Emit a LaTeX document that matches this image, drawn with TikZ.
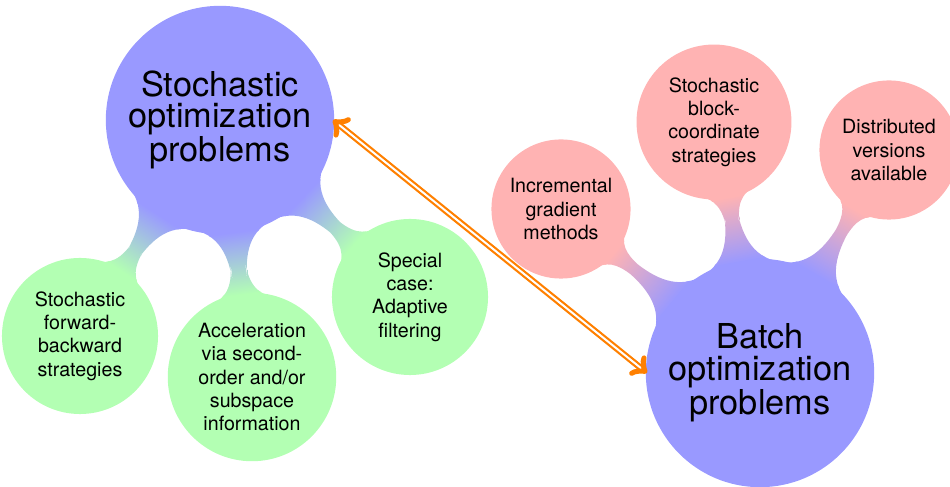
\documentclass[tikz,border=0pt]{standalone}
\usepackage{fontspec}
\setmainfont{TeX Gyre Heros}
\usetikzlibrary{mindmap}
\definecolor{rootblue}{RGB}{153,153,255}
\definecolor{leafgreen}{RGB}{179,255,179}
\definecolor{leafpink}{RGB}{255,179,179}
\definecolor{arroworange}{RGB}{255,128,0}
\begin{document}
\begin{tikzpicture}[x=0.0177cm,y=0.0177cm,mindmap]
\tikzset{
  bigconcept/.style={concept, concept color=rootblue, minimum size=4cm, inner sep=0pt,
    text width={}, align=center, text=black, font=\fontsize{17.28}{15.8}\selectfont},
  leafconcept/.style={concept, inner sep=0pt, text width={}, align=center, text=black,
    font=\fontsize{9.9}{11.7}\selectfont},
  greenleaf/.style={leafconcept, concept color=leafgreen},
  pinkleaf/.style={leafconcept, concept color=leafpink},
  linkarrow/.style={<->, draw=arroworange, double=white, line width=1.1pt, double distance=1pt}
}
\useasboundingbox (0,0) rectangle (950,-487);
\node[bigconcept] (stoch) at (220,-120) {Stochastic\\optimization\\problems};
\node[bigconcept] (batch) at (760,-373) {Batch\\optimization\\problems};
\node[greenleaf, minimum size=2.72cm] (fb) at (80,-336) {Stochastic\\forward-\\backward\\strategies};
\node[greenleaf, minimum size=2.94cm] (acc) at (252,-377) {Acceleration\\via second-\\order and/or\\subspace\\information};
\node[greenleaf, minimum size=2.72cm] (adapt) at (410,-297) {Special\\case:\\Adaptive\\filtering};
\node[pinkleaf, minimum size=2.42cm] (incr) at (561,-209) {Incremental\\gradient\\methods};
\node[pinkleaf, minimum size=2.7cm] (block) at (714,-122) {Stochastic\\block-\\coordinate\\strategies};
\node[pinkleaf, minimum size=2.42cm] (distr) at (889,-150) {Distributed\\versions\\available};
\path (stoch) to[circle connection bar switch color=from (rootblue) to (leafgreen)] (fb);
\path (stoch) to[circle connection bar switch color=from (rootblue) to (leafgreen)] (acc);
\path (stoch) to[circle connection bar switch color=from (rootblue) to (leafgreen)] (adapt);
\path (batch) to[circle connection bar switch color=from (rootblue) to (leafpink)] (incr);
\path (batch) to[circle connection bar switch color=from (rootblue) to (leafpink)] (block);
\path (batch) to[circle connection bar switch color=from (rootblue) to (leafpink)] (distr);
\draw[linkarrow] (stoch.east) -- (batch.west);
\end{tikzpicture}
\end{document}
